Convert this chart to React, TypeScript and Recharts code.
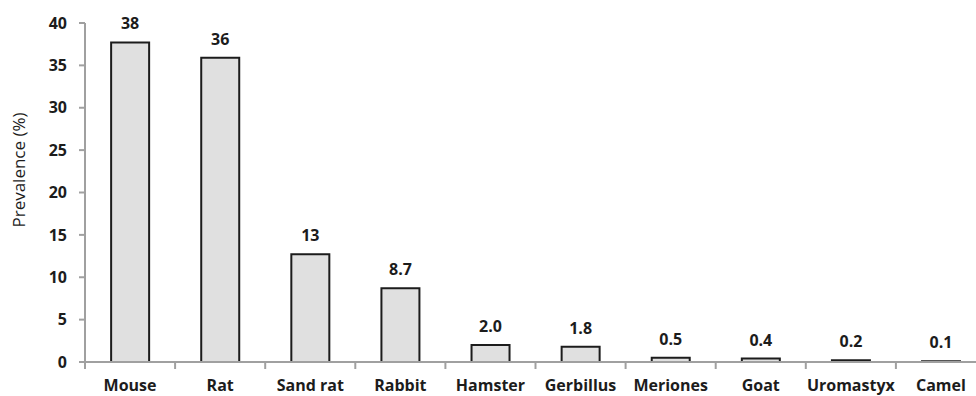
import { Bar, BarChart, LabelList, XAxis, YAxis } from "recharts";

const animals = ["Mouse", "Rat", "Sand rat", "Rabbit", "Hamster", "Gerbillus", "Meriones", "Goat", "Uromastyx", "Camel"];
const prevalence = [37.7, 35.9, 12.7, 8.7, 2.0, 1.8, 0.5, 0.4, 0.2, 0.1];
const shownValues = ["38", "36", "13", "8.7", "2.0", "1.8", "0.5", "0.4", "0.2", "0.1"];
const yTicks = [0, 5, 10, 15, 20, 25, 30, 35, 40];

const data = animals.map((animal, i) => ({
  animal,
  value: prevalence[i],
  shown: shownValues[i],
}));

const W = 1000;
const H = 396;
const M = { top: 23, right: 14, bottom: 4, left: 30 };
const Y_AXIS_W = 55;
const AXIS = "#a0a0a0";
const INK = "#1c1c1c";
const FONT = "'Open Sans', sans-serif";

const band = (W - M.left - M.right - Y_AXIS_W) / animals.length;

// category label in the middle, small tick at the left edge of each band
const XTick = (props: any) => {
  const { x, y, payload } = props;
  const left = x - band / 2;
  return (
    <g>
      <line x1={left} y1={y - 8} x2={left} y2={y - 1} stroke={AXIS} strokeWidth={2} />
      <text x={x} y={y + 21} textAnchor="middle" fill={INK} fontFamily={FONT} fontWeight={700} fontSize={16}>
        {payload.value}
      </text>
    </g>
  );
};

const YLabel = () => (
  <text
    x={20}
    y={170}
    transform="rotate(-90 20 170)"
    textAnchor="middle"
    dominantBaseline="middle"
    fill={INK}
    fontFamily={FONT}
    fontSize={17}
  >
    Prevalence (%)
  </text>
);

export default function App() {
  return (
    <div style={{ position: "fixed", left: 0, top: 0, width: 976, height: H, overflow: "hidden", background: "#fff" }}>
      <BarChart width={W} height={H} data={data} margin={M} barCategoryGap="29%">
        <XAxis
          dataKey="animal"
          interval={0}
          stroke={AXIS}
          strokeWidth={2}
          tickLine={false}
          tick={<XTick />}
          height={30}
        />
        <YAxis
          domain={[0, 40]}
          ticks={yTicks}
          interval={0}
          width={Y_AXIS_W}
          stroke={AXIS}
          strokeWidth={2}
          tickSize={6}
          tick={{ fill: INK, fontFamily: FONT, fontWeight: 700, fontSize: 16 }}
          tickMargin={12}
        />
        <Bar dataKey="value" fill="#e0e0e0" stroke={INK} strokeWidth={2} isAnimationActive={false}>
          <LabelList
            dataKey="shown"
            position="top"
            offset={13}
            fill={INK}
            fontFamily={FONT}
            fontWeight={700}
            fontSize={16}
          />
        </Bar>
        <YLabel />
      </BarChart>
    </div>
  );
}
